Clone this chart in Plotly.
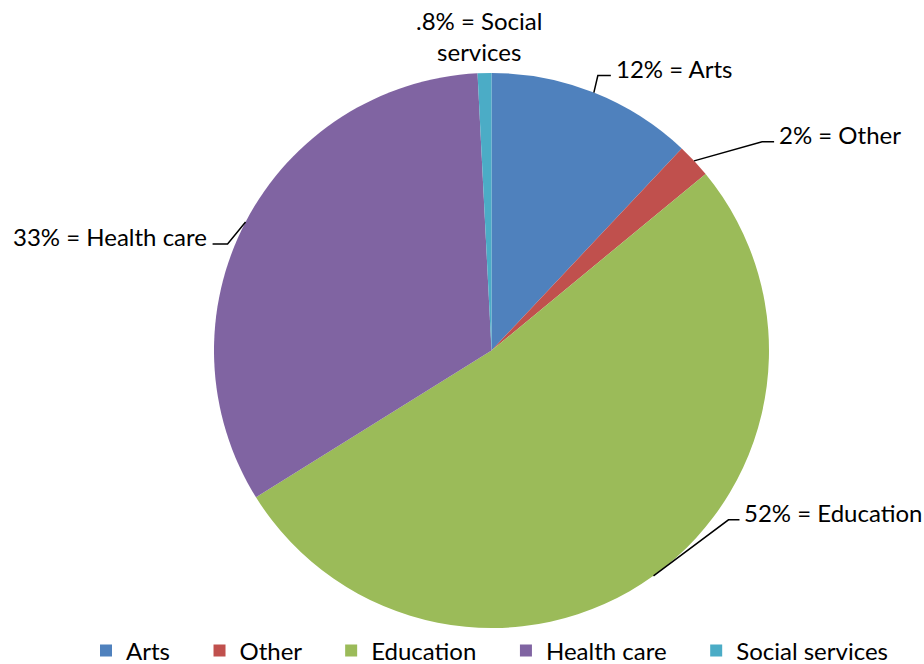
import numpy as np
import plotly.graph_objects as go

# Share of giving by sector
categories = ["Arts", "Other", "Education", "Health care", "Social services"]
values = [12, 2, 52, 33, 0.8]
label_text = ["12% = Arts", "2% = Other", "52% = Education",
              "33% = Health care", ".8% = Social<br>services"]
colors = ["#4F81BD", "#C0504D", "#9BBB59", "#8064A2", "#4BACC6"]

W, H = 924, 664
FONT = "Lato"
FS = 24

# pie placement in pixels
cx, cy, r = 491.5, 350.5, 277.5

# trailing non-breaking spaces widen each legend entry (not the last one)
pad = "\u00a0" * 4
legend_names = [c + pad for c in categories[:-1]] + [categories[-1]]

fig = go.Figure(go.Pie(
    labels=legend_names,
    values=values,
    sort=False,
    direction="clockwise",
    rotation=0,
    marker=dict(colors=colors, line=dict(width=0)),
    textinfo="none",
    hovertext=categories,
    hoverinfo="text+percent",
    domain=dict(x=[(cx - r) / W, (cx + r) / W],
                y=[(H - cy - r) / H, (H - cy + r) / H]),
))

# slice mid-angles (clockwise from 12 o'clock)
vals = np.array(values, dtype=float)
ends = np.cumsum(vals) / vals.sum() * 360.0
mids = ends - vals / vals.sum() * 180.0


def px(x, y):
    return x / W, 1 - y / H


# elbow offsets (from slice edge to bend; horizontal run) per label
leaders = {
    0: dict(bend=(4, -17), run=13, side="right"),
    1: dict(bend=(68, -19), run=12, side="right"),
    2: dict(bend=(75, -56), run=11, side="right"),
    3: dict(bend=(-18, 22), run=-15, side="left"),
}

shapes = []
annotations = []
for i, cfg in leaders.items():
    a = np.radians(mids[i])
    x0 = cx + r * np.sin(a)
    y0 = cy - r * np.cos(a)
    x1 = x0 + cfg["bend"][0]
    y1 = y0 + cfg["bend"][1]
    x2 = x1 + cfg["run"]
    p0, p1, p2 = px(x0, y0), px(x1, y1), px(x2, y1)
    shapes.append(dict(
        type="path", xref="paper", yref="paper",
        path=f"M {p0[0]},{p0[1]} L {p1[0]},{p1[1]} L {p2[0]},{p2[1]}",
        line=dict(color="black", width=1.5),
    ))
    gap = 3 if cfg["side"] == "right" else -4
    tx, ty = px(x2 + gap, y1 - 7)
    annotations.append(dict(
        x=tx, y=ty, xref="paper", yref="paper",
        text=label_text[i], showarrow=False,
        xanchor="left" if cfg["side"] == "right" else "right",
        yanchor="middle",
        font=dict(family=FONT, size=FS, color="black"),
    ))

# small slice label sits above the pie without a leader
a = np.radians(mids[4])
sx = cx + r * np.sin(a)
tx, ty = px(sx - 6, 36)
annotations.append(dict(
    x=tx, y=ty, xref="paper", yref="paper",
    text=label_text[4], showarrow=False,
    xanchor="center", yanchor="middle",
    font=dict(family=FONT, size=FS, color="black"),
))

fig.update_layout(
    width=W, height=H,
    margin=dict(l=0, r=0, t=0, b=0, autoexpand=False),
    paper_bgcolor="white",
    plot_bgcolor="white",
    showlegend=True,
    legend=dict(
        orientation="h",
        x=489.5 / W, xanchor="center",
        y=-0.014, yanchor="bottom",
        font=dict(family=FONT, size=FS, color="black"),
        traceorder="normal",
    ),
    shapes=shapes,
    annotations=annotations,
)

fig.write_html("out.html")
